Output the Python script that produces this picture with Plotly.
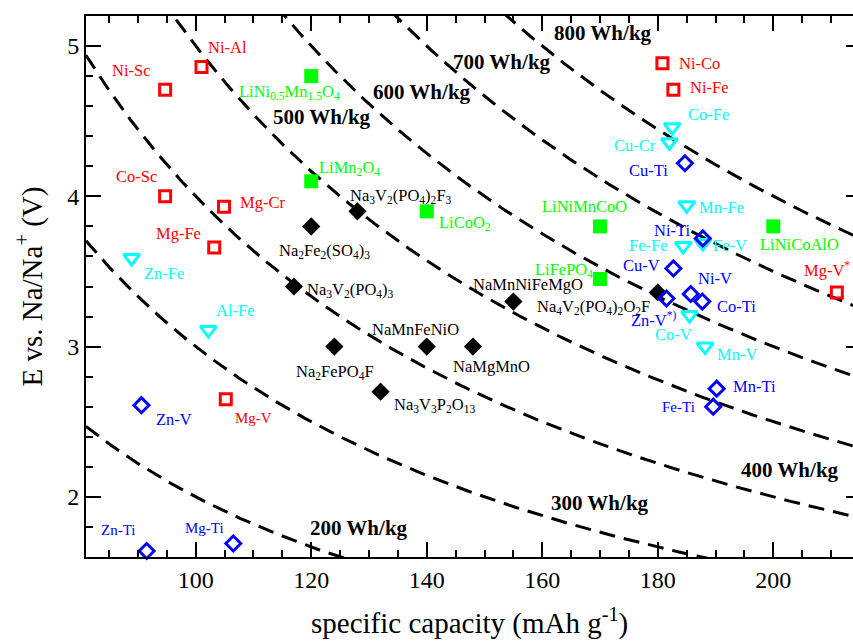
import numpy as np
import plotly.graph_objects as go

# ---------------- data ----------------
energy_levels = [200, 300, 400, 500, 600, 700, 800]          # Wh/kg iso-lines
energy_label_x = [128.3, 170.0, 202.9, 121.8, 139.1, 153.0, 170.5]
energy_label_y = [1.793, 1.96, 2.18, 4.53, 4.696, 4.896, 5.087]

red_names = ["Ni-Al", "Ni-Sc", "Co-Sc", "Mg-Cr", "Mg-Fe", "Mg-V", "Ni-Co", "Ni-Fe", "Mg-V<sup>*</sup>"]
red_cap = [101.0, 94.7, 94.7, 104.9, 103.2, 105.2, 180.8, 182.7, 211.0]
red_volt = [4.86, 4.71, 4.00, 3.93, 3.66, 2.65, 4.885, 4.71, 3.36]

green_names = ["LiNi<sub>0.5</sub>Mn<sub>1.5</sub>O<sub>4</sub>", "LiMn<sub>2</sub>O<sub>4</sub>",
               "LiCoO<sub>2</sub>", "LiNiMnCoO", "LiFePO<sub>4</sub>", "LiNiCoAlO"]
green_cap = [120, 120, 140, 170, 170, 200]
green_volt = [4.80, 4.10, 3.90, 3.80, 3.45, 3.80]

black_names = ["Na<sub>3</sub>V<sub>2</sub>(PO<sub>4</sub>)<sub>2</sub>F<sub>3</sub>",
               "Na<sub>2</sub>Fe<sub>2</sub>(SO<sub>4</sub>)<sub>3</sub>",
               "Na<sub>3</sub>V<sub>2</sub>(PO<sub>4</sub>)<sub>3</sub>",
               "Na<sub>2</sub>FePO<sub>4</sub>F", "NaMnFeNiO", "NaMgMnO",
               "Na<sub>3</sub>V<sub>3</sub>P<sub>2</sub>O<sub>13</sub>", "NaMnNiFeMgO",
               "Na<sub>4</sub>V<sub>2</sub>(PO<sub>4</sub>)<sub>2</sub>O<sub>2</sub>F"]
black_cap = [128, 120, 117, 124, 140, 148, 132, 155, 180]
black_volt = [3.90, 3.80, 3.40, 3.00, 3.00, 3.00, 2.70, 3.30, 3.36]

cyan_names = ["Zn-Fe", "Al-Fe", "Co-Fe", "Cu-Cr", "Mn-Fe", "Fe-Fe", "Fe-V", "Co-V", "Mn-V"]
cyan_cap = [88.9, 102.2, 182.5, 182.0, 185.0, 184.4, 187.8, 185.5, 188.2]
cyan_volt = [3.59, 3.11, 4.46, 4.36, 3.94, 3.67, 3.69, 3.21, 3.00]

blue_names = ["Cu-Ti", "Ni-Ti", "Cu-V", "Ni-V", "Co-Ti", "Zn-V<sup>*)</sup>", "Mn-Ti", "Fe-Ti",
              "Zn-V", "Zn-Ti", "Mg-Ti"]
blue_cap = [184.7, 187.8, 182.7, 185.7, 187.7, 181.5, 190.2, 189.6, 90.6, 91.5, 106.5]
blue_volt = [4.22, 3.72, 3.52, 3.35, 3.30, 3.32, 2.72, 2.60, 2.61, 1.64, 1.69]

x_ticks = [100, 120, 140, 160, 180, 200]
y_ticks = [2, 3, 4, 5]

# ---------------- styles / label offsets (pixels) ----------------
FONT = "Liberation Serif"
RED, GREEN, CYAN, BLUE, BLACK = "#ff0000", "#00ff00", "#00ffff", "#0000ff", "#000000"

red_off = [(26, 20), (-34, 19), (-29, 20), (38, 4), (-36, 14), (28, -19), (37, 0), (36, 2), (-10, 23)]
green_off = [(-22, -16), (38, 13), (38, -12), (-16, 20), (-36, 9), (26, -18)]
black_off = [(44, 15), (13, -25), (57, -3), (1, -25), (-11, 17), (19, -20), (54, -13), (15, 17), (-64, -14)]
cyan_off = [(32, -16), (27, 20), (36, 13), (-34, -3), (35, -2), (-35, 0), (27, -3), (-16, -19), (32, -8)]
blue_off = [(-36, -7), (-31, 8), (-32, 3), (24, 16), (34, -5), (-12, -21), (38, 2), (-35, 0),
            (33, -14), (-29, 21), (-29, 15)]
small_labels = {"Fe-Ti", "Zn-Ti", "Mg-Ti", "Mg-V"}

fig = go.Figure()

# iso-energy lines  V = E / Q
q = np.linspace(81, 214, 400)
for e in energy_levels:
    fig.add_trace(go.Scatter(x=q, y=e / q, mode="lines",
                             line=dict(color="black", width=3, dash="16px,9px"),
                             hoverinfo="skip", showlegend=False))

groups = [
    (red_cap, red_volt, red_names, red_off, RED, dict(symbol="square-open", size=11, color=RED, line=dict(width=3, color=RED))),
    (green_cap, green_volt, green_names, green_off, GREEN, dict(symbol="square", size=14, color=GREEN)),
    (black_cap, black_volt, black_names, black_off, BLACK, dict(symbol="diamond", size=14, color=BLACK)),
    (cyan_cap, cyan_volt, cyan_names, cyan_off, CYAN, dict(symbol="triangle-down-open", size=14, color=CYAN, line=dict(width=3, color=CYAN))),
    (blue_cap, blue_volt, blue_names, blue_off, BLUE, dict(symbol="diamond-open", size=11.5, color=BLUE, line=dict(width=3, color=BLUE))),
]

annotations = []
for xs, ys, names, offs, col, mk in groups:
    fig.add_trace(go.Scatter(x=xs, y=ys, mode="markers", marker=mk, text=names,
                             showlegend=False, cliponaxis=False))
    for x, y, n, (dx, dy) in zip(xs, ys, names, offs):
        annotations.append(dict(x=x, y=y, xref="x", yref="y", text=n, showarrow=False,
                                xshift=dx, yshift=dy, xanchor="center", yanchor="middle",
                                font=dict(family=FONT, size=15 if n in small_labels else 16.5, color=col)))

for e, lx, ly in zip(energy_levels, energy_label_x, energy_label_y):
    annotations.append(dict(x=lx, y=ly, xref="x", yref="y", text=f"<b>{e} Wh/kg</b>",
                            showarrow=False, xanchor="center", yanchor="middle",
                            font=dict(family=FONT, size=21, color="black")))

# axis titles
annotations.append(dict(x=0.5, y=-0.12, xref="paper", yref="paper",
                        text="specific capacity (mAh g<sup>-1</sup>)", showarrow=False,
                        xanchor="center", yanchor="middle",
                        font=dict(family=FONT, size=29, color="black")))
annotations.append(dict(x=-0.073, y=0.5, xref="paper", yref="paper", textangle=-90,
                        text="E vs. Na/Na<sup>+</sup> (V)", showarrow=False,
                        xanchor="center", yanchor="middle",
                        font=dict(family=FONT, size=29, color="black")))

# invisible trace to hold the right-side tick stubs axis
fig.add_trace(go.Scatter(x=[], y=[], yaxis="y2", showlegend=False, hoverinfo="skip"))

fig.update_layout(
    width=853, height=641,
    margin=dict(l=86, r=0, t=16, b=84),
    paper_bgcolor="white", plot_bgcolor="white",
    showlegend=False,
    annotations=annotations,
    xaxis=dict(range=[81, 213.8], tickvals=x_ticks, ticks="inside", ticklen=15, tickwidth=1.5,
               tickcolor="black", showline=True, linewidth=2, linecolor="black", mirror="ticks",
               showgrid=False, zeroline=False,
               minor=dict(dtick=5, tick0=0, ticks="inside", ticklen=7, tickwidth=1.5, tickcolor="black", showgrid=False),
               tickfont=dict(family=FONT, size=24, color="black")),
    yaxis=dict(range=[1.6, 5.2], tickvals=y_ticks, ticks="inside", ticklen=15, tickwidth=1.5,
               tickcolor="black", showline=True, linewidth=2, linecolor="black", mirror=False,
               showgrid=False, zeroline=False,
               minor=dict(dtick=0.2, tick0=0, ticks="inside", ticklen=7, tickwidth=1.5, tickcolor="black", showgrid=False),
               tickfont=dict(family=FONT, size=24, color="black")),
    yaxis2=dict(range=[1.6, 5.2], overlaying="y", side="right", tickvals=y_ticks, ticks="inside",
                ticklen=7, tickwidth=1.5, tickcolor="black", showticklabels=False, showline=False,
                showgrid=False, zeroline=False),
)

fig.write_html("out.html", config={"displayModeBar": False},
               post_script="document.body.style.margin='0';document.body.style.overflow='hidden';"
                           "document.documentElement.style.overflow='hidden';")
